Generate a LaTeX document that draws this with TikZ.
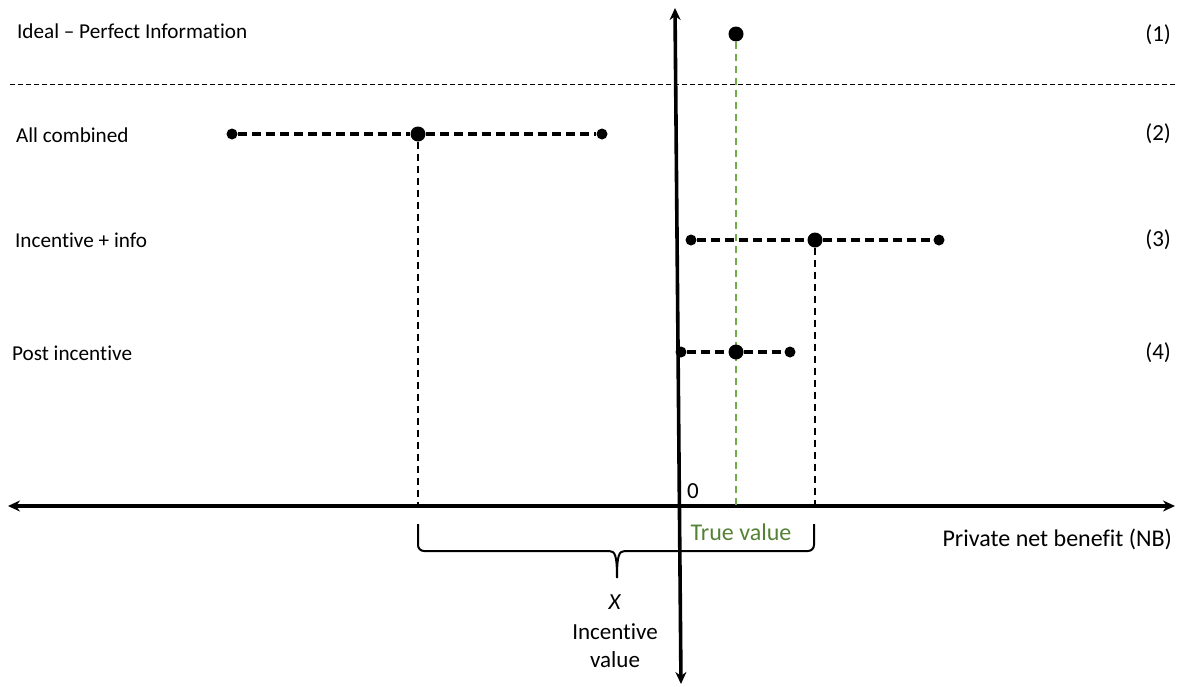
\documentclass[tikz,border=0pt]{standalone}
\usepackage{fontspec}
\setmainfont{Carlito}[Ligatures=NoCommon]
\usepackage{tikz}
\usetikzlibrary{arrows.meta}
\definecolor{truegreen}{RGB}{112,173,71}
\definecolor{truetext}{RGB}{84,130,53}

\begin{document}
\begin{tikzpicture}[x=0.5pt, y=-0.5pt, >={Stealth[length=6pt,width=5.5pt]},
  every node/.style={font=\fontsize{11.5}{14}\selectfont},
  rowlabel/.style={anchor=west, font=\fontsize{10.6}{13}\selectfont},
  axislabel/.style={font=\fontsize{12}{14}\selectfont},
  dot/.style={circle, fill=black, inner sep=0pt, minimum size=5.5pt},
  bigdot/.style={circle, fill=black, inner sep=0pt, minimum size=7.5pt},
  spanline/.style={line width=1.6pt, dash pattern=on 4.5pt off 2.5pt},
  drop/.style={line width=1.3pt, dash pattern=on 3.5pt off 2.5pt}]

\useasboundingbox (0,0) rectangle (1179,686);

% Axes
\coordinate (ytop) at (675,8);
\coordinate (ybot) at (681,684);
\coordinate (xl) at (8,506);
\coordinate (xr) at (1175,506);
\draw[<->,line width=1.8pt] (xl) -- (xr);
\draw[<->,line width=1.8pt] (ybot) -- (ytop);
\node at (693,491) (zero) {0};

% Row labels
\node[rowlabel] at (10,31) (l1) {Ideal -- Perfect Information};
\node[rowlabel] at (9,135) (l2) {All combined};
\node[rowlabel] at (8,240) (l3) {Incentive + info};
\node[rowlabel] at (5,353) (l4) {Post incentive};
\node[anchor=east] at (1178,35) (n1) {(1)};
\node[anchor=east] at (1178,134) (n2) {(2)};
\node[anchor=east] at (1178,240) (n3) {(3)};
\node[anchor=east] at (1178,353) (n4) {(4)};

% Separator
\coordinate (sl) at (10,84);
\coordinate (sr) at (1175,84);
\draw[line width=0.5pt, dash pattern=on 2.5pt off 1.5pt] (sl) -- (sr);

% (1) true value
\node[bigdot] at (736,34) (p1) {};
\coordinate (t1) at (736,505);
\draw[truegreen, line width=1.1pt, dash pattern=on 3.5pt off 2.5pt] (p1) -- (t1);

% (2) all combined
\node[dot] at (232,134) (a2) {};
\node[bigdot] at (418,134) (p2) {};
\node[dot] at (602,134) (b2) {};
\coordinate (t2) at (418,505);
\draw[spanline] (a2) -- (p2) -- (b2);
\draw[drop] (p2) -- (t2);

% (3) incentive + info
\node[dot] at (691,240) (a3) {};
\node[bigdot] at (815,240) (p3) {};
\node[dot] at (939,240) (b3) {};
\coordinate (t3) at (815,505);
\draw[spanline] (a3) -- (p3) -- (b3);
\draw[drop] (p3) -- (t3);

% (4) post incentive
\node[dot] at (681,352) (a4) {};
\node[bigdot] at (736,352) (p4) {};
\node[dot] at (790,352) (b4) {};
\draw[spanline] (a4) -- (p4) -- (b4);

% Brace under the axis
\draw[line width=1pt, rounded corners=3pt] (418,524) -- (418,551) -- (609,551);
\draw[line width=1pt] (609,551) .. controls (615,551) and (617,555) .. (617,578)
  .. controls (617,555) and (619,551) .. (625,551);
\draw[line width=1pt, rounded corners=3pt] (625,551) -- (814,551) -- (814,524);

% Axis texts
\node[axislabel, text=truetext] at (741,532) (tv) {True value};
\node[axislabel, anchor=east] at (1179,539) (nb) {Private net benefit (NB)};
\node at (615,602) (xv) {\textit{X}};
\node at (615,632) (iv) {Incentive};
\node at (615,660) (vv) {value};

\end{tikzpicture}
\end{document}
